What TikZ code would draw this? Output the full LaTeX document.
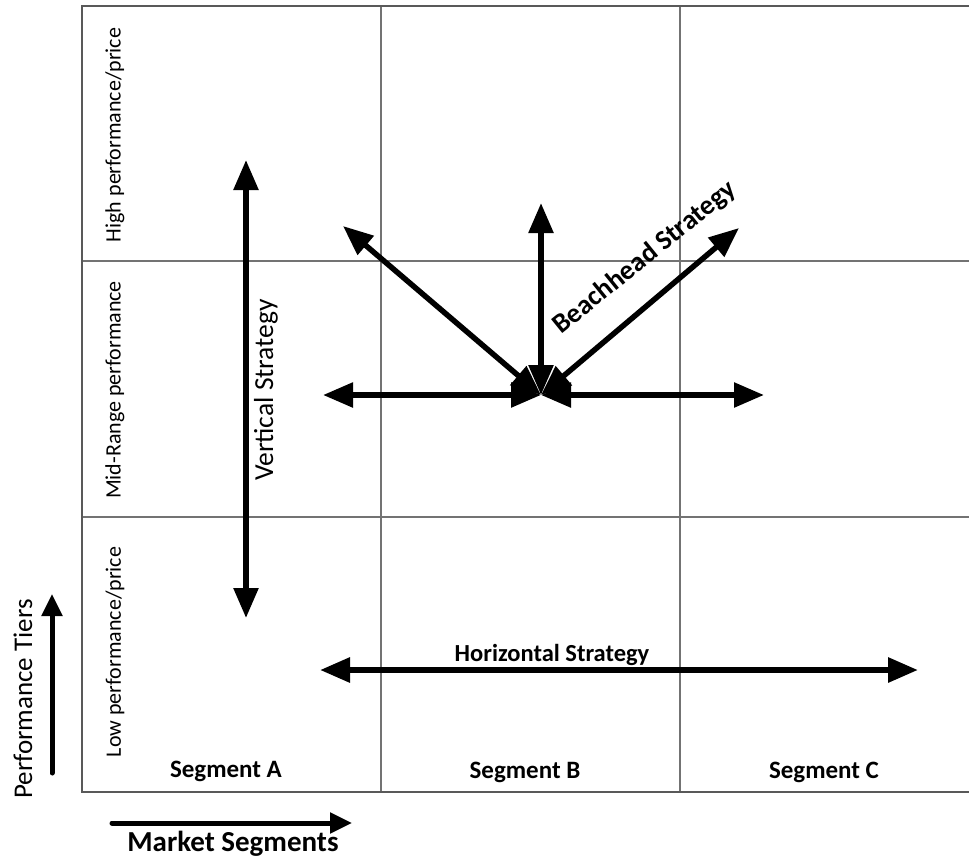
\documentclass[tikz,border=0pt]{standalone}
\usepackage{fontspec}
\setmainfont{Carlito}
\usetikzlibrary{arrows.meta}
\tikzset{
  gridline/.style={draw=black!55, line width=1.5pt},
  frameline/.style={draw=black!65, line width=2.6pt},
  bigarrow/.style={line width=5.5pt, {Triangle[length=30pt,width=24pt]}-{Triangle[length=30pt,width=24pt]}},
  axisarrow/.style={line width=5pt, line cap=round, -{Triangle[length=22pt,width=20pt]}},
  rowlabel/.style={rotate=90, font=\fontsize{22}{25}\selectfont},
  seglabel/.style={font=\bfseries\fontsize{25}{29}\selectfont},
  stratlabel/.style={font=\bfseries\fontsize{24.5}{28}\selectfont},
  axislabel/.style={font=\fontsize{27}{31}\selectfont}
}
\begin{document}
\begin{tikzpicture}[x=1pt,y=-1pt]
\useasboundingbox (0,0) rectangle (969,860);

% grid of market segments and performance tiers
\draw[gridline] (381,6) -- (381,792);
\draw[gridline] (680,6) -- (680,792);
\draw[gridline] (82,261) -- (969,261);
\draw[gridline] (82,517) -- (969,517);
\draw[frameline] (969,6) -- (82,6) -- (82,792) -- (969,792);

% tier labels
\node[rowlabel] (high) at (115,135) {High performance/price};
\node[rowlabel] (mid) at (115,390) {Mid-Range performance};
\node[rowlabel] (low) at (115,652) {Low performance/price};

% segment labels
\node[seglabel] (sa) at (226,771) {Segment A};
\node[seglabel] (sb) at (525,772) {Segment B};
\node[seglabel] (sc) at (824,772) {Segment C};

% vertical strategy
\coordinate (vtop) at (246,160);
\coordinate (vbot) at (246,618);
\draw[bigarrow] (vbot) -- (vtop);
\node[font=\fontsize{27.5}{31}\selectfont, rotate=90] (vlab) at (266,390) {Vertical Strategy};

% beachhead strategy
\coordinate (c) at (541,395);
\coordinate (bl) at (323,395);
\coordinate (br) at (764,395);
\coordinate (bu) at (541,203);
\coordinate (bul) at (343,226);
\coordinate (bur) at (739,228);
\draw[bigarrow] (c) -- (bl);
\draw[bigarrow] (c) -- (br);
\draw[bigarrow] (c) -- (bu);
\draw[bigarrow] (c) -- (bul);
\draw[bigarrow] (c) -- (bur);
\node[stratlabel, font=\bfseries\fontsize{27.5}{31}\selectfont, rotate=39] (blab) at (645,258) {Beachhead Strategy};

% horizontal strategy
\coordinate (hl) at (320,670);
\coordinate (hr) at (918,670);
\draw[bigarrow, line width=6pt] (hl) -- (hr);
\node[stratlabel] (hlab) at (552,655) {Horizontal Strategy};

% axes
\coordinate (pt0) at (52,773);
\coordinate (pt1) at (52,594);
\draw[axisarrow] (pt0) -- (pt1);
\node[axislabel, rotate=90] (ptlab) at (23,699) {Performance Tiers};
\coordinate (ms0) at (112,823);
\coordinate (ms1) at (352,823);
\draw[axisarrow] (ms0) -- (ms1);
\node[axislabel, font=\bfseries\fontsize{29}{33}\selectfont] (mslab) at (233,844) {Market Segments};
\end{tikzpicture}
\end{document}
